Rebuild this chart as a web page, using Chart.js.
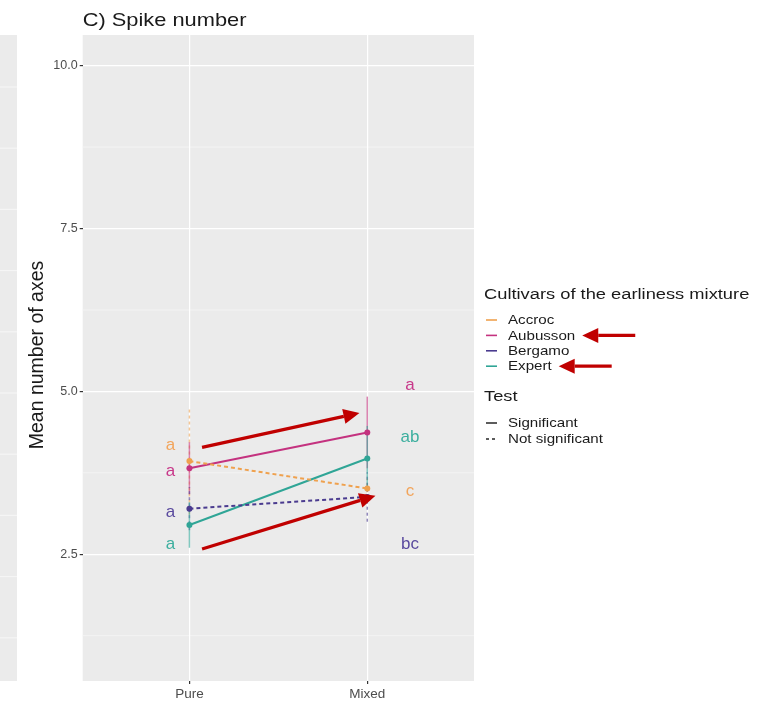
<!DOCTYPE html>
<html>
<head>
<meta charset="utf-8">
<script src="https://cdn.jsdelivr.net/npm/chart.js@4/dist/chart.umd.min.js"></script>
<style>
  body { margin: 0; background: #fff; }
</style>
</head>
<body>
<canvas id="spikes" width="774" height="702"></canvas>
<script>
// ------------------ datos ------------------
const categories = ["Pure", "Mixed"];
const cultivars = ["Accroc", "Aubusson", "Bergamo", "Expert"];
const colors = ["#EFA14E", "#C4327F", "#4A3B8F", "#2FA596"];
const letterColors = ["#F2A55C", "#C8388A", "#5A4A9E", "#3DAF9F"];

// medias (Pure, Mixed) y error
const accroc = [3.93, 3.51];
const aubusson = [3.82, 4.37];
const bergamo = [3.20, 3.38];
const expert = [2.95, 3.97];
const accrocErr = [0.82, 0.15];
const aubussonErr = [0.40, 0.55];
const bergamoErr = [0.33, 0.38];
const expertErr = [0.35, 0.50];
const significant = [false, true, false, true];

// letras de comparacion
const pureLetters = ["a", "a", "a", "a"];
const pureLetterY = [4.18, 3.78, 3.15, 2.66];
const mixedLetters = ["c", "a", "bc", "ab"];
const mixedLetterY = [3.47, 5.10, 2.66, 4.29];

const yTicks = [2.5, 5.0, 7.5, 10.0];

// flechas rojas (x en unidades de categoria, y en valor)
const arrowFrom = [[0.071, 4.14], [0.071, 2.58]];
const arrowTo = [[0.956, 4.67], [1.046, 3.40]];
const arrowedLegend = ["Aubusson", "Expert"];

const means = [accroc, aubusson, bergamo, expert];
const errs = [accrocErr, aubussonErr, bergamoErr, expertErr];

// ------------------ utilidades de dibujo ------------------
function stretchText(ctx, text, x, y, sx, align) {
    ctx.save();
    ctx.translate(x, y);
    ctx.scale(sx, 1);
    ctx.textAlign = align || "left";
    ctx.fillText(text, 0, 0);
    ctx.restore();
}

function redArrow(ctx, x1, y1, x2, y2) {
    const ang = Math.atan2(y2 - y1, x2 - x1);
    const head = 16, half = 7.5;
    const bx = x2 - head * Math.cos(ang);
    const by = y2 - head * Math.sin(ang);
    ctx.save();
    ctx.strokeStyle = "#C00000";
    ctx.fillStyle = "#C00000";
    ctx.lineWidth = 3.2;
    ctx.beginPath();
    ctx.moveTo(x1, y1);
    ctx.lineTo(bx, by);
    ctx.stroke();
    ctx.beginPath();
    ctx.moveTo(x2, y2);
    ctx.lineTo(bx + half * Math.sin(ang), by - half * Math.cos(ang));
    ctx.lineTo(bx - half * Math.sin(ang), by + half * Math.cos(ang));
    ctx.closePath();
    ctx.fill();
    ctx.restore();
}

// ------------------ plugin: panel, leyenda, letras ------------------
const ggPanel = {
    id: "ggPanel",
    beforeDraw(chart) {
        const { ctx, chartArea: a, scales } = chart;
        ctx.save();
        ctx.fillStyle = "#fff";
        ctx.fillRect(0, 0, chart.width, chart.height);
        ctx.fillStyle = "#EBEBEB";
        ctx.fillRect(a.left, a.top, a.right - a.left, a.bottom - a.top);

        // lineas menores
        ctx.strokeStyle = "#F5F5F5";
        ctx.lineWidth = 0.8;
        for (let i = 0; i <= yTicks.length; i++) {
            const v = (i === 0 ? yTicks[0] - 1.25 : yTicks[i - 1] + 1.25);
            const y = scales.y.getPixelForValue(v);
            if (y < a.top || y > a.bottom) continue;
            ctx.beginPath();
            ctx.moveTo(a.left, y);
            ctx.lineTo(a.right, y);
            ctx.stroke();
        }

        // panel vecino a la izquierda
        ctx.fillStyle = "#EBEBEB";
        ctx.fillRect(0, a.top, 17, a.bottom - a.top);
        ctx.strokeStyle = "#F7F7F7";
        ctx.lineWidth = 1;
        for (let k = 0; k < 10; k++) {
            const y = a.top + 52 + k * 61.2;
            ctx.beginPath();
            ctx.moveTo(0, y);
            ctx.lineTo(17, y);
            ctx.stroke();
        }

        // titulo
        ctx.fillStyle = "#1A1A1A";
        ctx.font = "18.5px 'Liberation Sans', Arial, sans-serif";
        ctx.textBaseline = "alphabetic";
        stretchText(ctx, "C) Spike number", a.left, 26, 1.18, "left");

        // titulo eje y
        ctx.save();
        ctx.translate(38, (a.top + a.bottom) / 2 - 3);
        ctx.rotate(-Math.PI / 2);
        ctx.font = "19.5px 'Liberation Sans', Arial, sans-serif";
        ctx.textAlign = "center";
        ctx.textBaseline = "middle";
        ctx.fillText("Mean number of axes", 0, 0);
        ctx.restore();

        // leyenda
        ctx.textBaseline = "middle";
        ctx.font = "15.5px 'Liberation Sans', Arial, sans-serif";
        stretchText(ctx, "Cultivars of the earliness mixture", 484, 295, 1.18, "left");
        stretchText(ctx, "Test", 484, 397, 1.18, "left");
        ctx.font = "13.5px 'Liberation Sans', Arial, sans-serif";
        cultivars.forEach((c, i) => {
            const y = 320 + i * 15.4;
            ctx.strokeStyle = colors[i];
            ctx.lineWidth = 1.6;
            ctx.beginPath();
            ctx.moveTo(486, y);
            ctx.lineTo(497, y);
            ctx.stroke();
            ctx.fillStyle = "#1A1A1A";
            stretchText(ctx, c, 508, y + 0.5, 1.12, "left");
            if (arrowedLegend.includes(c)) {
                const w = ctx.measureText(c).width * 1.12;
                redArrow(ctx, 508 + w + 60, y, 508 + w + 7, y);
            }
        });
        ["Significant", "Not significant"].forEach((t, i) => {
            const y = 423 + i * 16;
            ctx.strokeStyle = "#333";
            ctx.lineWidth = 1.6;
            ctx.setLineDash(i === 0 ? [] : [3, 3]);
            ctx.beginPath();
            ctx.moveTo(486, y);
            ctx.lineTo(497, y);
            ctx.stroke();
            ctx.setLineDash([]);
            ctx.fillStyle = "#1A1A1A";
            stretchText(ctx, t, 508, y + 0.5, 1.12, "left");
        });
        ctx.restore();
    },
    beforeDatasetsDraw(chart) {
        // barras de error
        const { ctx, scales: { x, y } } = chart;
        ctx.save();
        ctx.lineWidth = 1.5;
        means.forEach((m, i) => {
            ctx.strokeStyle = colors[i];
            ctx.globalAlpha = 0.6;
            ctx.setLineDash(significant[i] ? [] : [3, 3]);
            m.forEach((v, j) => {
                const px = x.getPixelForValue(j);
                ctx.beginPath();
                ctx.moveTo(px, y.getPixelForValue(v - errs[i][j]));
                ctx.lineTo(px, y.getPixelForValue(v + errs[i][j]));
                ctx.stroke();
            });
        });
        ctx.restore();
    },
    afterDraw(chart) {
        const { ctx, scales: { x, y } } = chart;
        ctx.save();
        ctx.font = "17px 'Liberation Sans', Arial, sans-serif";
        ctx.textAlign = "center";
        ctx.textBaseline = "middle";
        cultivars.forEach((c, i) => {
            ctx.fillStyle = letterColors[i];
            ctx.fillText(pureLetters[i], x.getPixelForValue(-0.107), y.getPixelForValue(pureLetterY[i]));
            ctx.fillText(mixedLetters[i], x.getPixelForValue(1.24), y.getPixelForValue(mixedLetterY[i]));
        });
        arrowFrom.forEach((f, k) => {
            redArrow(ctx,
                x.getPixelForValue(f[0]), y.getPixelForValue(f[1]),
                x.getPixelForValue(arrowTo[k][0]), y.getPixelForValue(arrowTo[k][1]));
        });
        ctx.restore();
    }
};

// ------------------ grafico ------------------
const datasets = cultivars.map((c, i) => ({
    label: c,
    data: means[i].map((v, j) => ({ x: j, y: v })),
    borderColor: colors[i],
    backgroundColor: colors[i],
    borderWidth: 2,
    borderDash: significant[i] ? [] : [4, 3],
    pointRadius: 3,
    pointBorderWidth: 0,
    tension: 0,
}));

const grafico = new Chart(document.getElementById("spikes").getContext("2d"), {
    type: "line",
    data: { datasets },
    plugins: [ggPanel],
    options: {
        responsive: false,
        animation: false,
        layout: { padding: { top: 35, right: 300, left: 0, bottom: 0 } },
        plugins: { legend: { display: false }, tooltip: { enabled: false } },
        scales: {
            x: {
                type: "linear",
                min: -0.6,
                max: 1.6,
                afterBuildTicks: (s) => { s.ticks = categories.map((c, j) => ({ value: j })); },
                afterFit: (s) => { s.height = 21; },
                ticks: {
                    callback: (v) => categories[v],
                    color: "#4D4D4D",
                    font: { family: "'Liberation Sans', Arial, sans-serif", size: 13.5 },
                    padding: 2,
                    maxRotation: 0,
                },
                grid: { color: "#FFFFFF", lineWidth: 1.2, tickColor: "#333", tickLength: 3 },
                border: { display: false },
            },
            y: {
                min: 0.555,
                max: 10.47,
                afterBuildTicks: (s) => { s.ticks = yTicks.map((v) => ({ value: v })); },
                afterFit: (s) => { s.width = 82.7; },
                ticks: {
                    callback: (v) => v.toFixed(1),
                    color: "#4D4D4D",
                    font: { family: "'Liberation Sans', Arial, sans-serif", size: 12.5 },
                    padding: 2,
                },
                grid: { color: "#FFFFFF", lineWidth: 1.2, tickColor: "#333", tickLength: 3 },
                border: { display: false },
            },
        },
    },
});
</script>
</body>
</html>
